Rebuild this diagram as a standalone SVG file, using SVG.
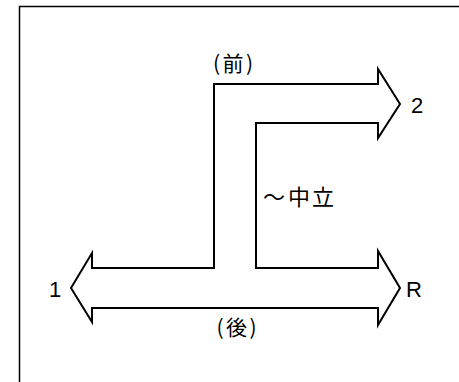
<svg xmlns="http://www.w3.org/2000/svg" width="459" height="382" viewBox="0 0 459 382">
<style>
.ln{fill:none;stroke:#000;stroke-width:2;stroke-linejoin:miter}
.fr{fill:none;stroke:#000;stroke-width:1.5}
.lat{font-family:"Liberation Sans",Arial,sans-serif;font-size:22px;fill:#000}
.cjk{font-family:"Noto Sans CJK JP","Noto Sans CJK SC",sans-serif;font-size:21px;fill:#000}
</style>
<rect width="459" height="382" fill="#fff"/>
<path class="fr" d="M19.5,382 V6.5 H459"/>
<g id="shift-gate">
<path class="ln" d="M214,84 H378 V69 L400,104 L378,138 V123 H256 V268 H378 V251 L400,288 L378,325 V308 H92 V322 L71,288 L92,253 V268 H214 Z"/>
</g>
<g id="label-front"><text class="cjk" x="216.5 233 249.5" y="71" text-anchor="middle">(前)</text></g>
<g id="label-2"><text class="lat" x="411" y="113">2</text></g>
<g id="label-neutral"><text class="cjk" style="font-size:22px" x="274 299 323" y="205" text-anchor="middle">～中立</text></g>
<g id="label-1"><text class="lat" x="49" y="297">1</text></g>
<g id="label-R"><text class="lat" x="406" y="297">R</text></g>
<g id="label-rear"><text class="cjk" x="220 236.5 253" y="335" text-anchor="middle">(後)</text></g>
</svg>
